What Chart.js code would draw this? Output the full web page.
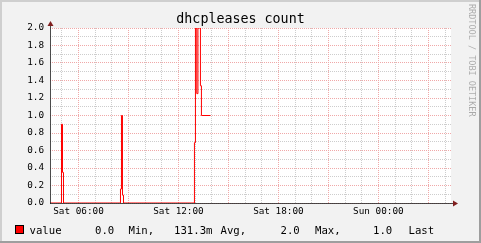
<!DOCTYPE html>
<html><head><meta charset="utf-8">
<script src="https://cdn.jsdelivr.net/npm/chart.js@4"></script>
<style>html,body{margin:0;padding:0;background:#F2F2F2;overflow:hidden}canvas{display:block}</style>
</head><body>
<canvas id="c" width="481" height="243"></canvas>
<script>
// ---- data ----
const chartTitle = 'dhcpleases count';
const seriesName = 'value';
// change points, hours since Sat 00:00 (stepped line)
const times  = [4.29, 4.98, 5.04, 5.10, 8.52, 8.58, 8.64, 8.70, 12.96, 13.02, 13.10, 13.17, 13.32, 13.38, 13.92];
const values = [0,    0.90, 0.35, 0,    0.16, 1.00, 0.09, 0,    0.69,  2.00,  1.25,  2.00,  1.34,  1.00,  1.00];
const xMin = 4.29, xMax = 28.30;
const yMin = 0, yMax = 2.0, yStep = 0.1;
const tickHours  = [6, 12, 18, 24];
const tickLabels = ['Sat 06:00', 'Sat 12:00', 'Sat 18:00', 'Sun 00:00'];
const statValues = ['0.0', '131.3m', '2.0', '1.0'];
const statNames  = ['Min,', 'Avg,', 'Max,', 'Last'];
const watermark = 'RRDTOOL / TOBI OETIKER';

// ---- styles ----
const MONO = "'DejaVu Sans Mono', 'Liberation Mono', monospace";
const minorColor = '#CDCDCD';
const majorColor = '#F0A8A8';

const rrdPlugin = {
  id: 'rrd',
  beforeDraw(chart) {
    const ctx = chart.ctx, a = chart.chartArea;
    const W = chart.width, H = chart.height;
    ctx.save();
    ctx.fillStyle = '#F2F2F2';
    ctx.fillRect(0, 0, W, H);
    ctx.fillStyle = '#CFCFCF';
    ctx.fillRect(0, 0, W, 2);
    ctx.fillRect(0, 0, 2, H);
    ctx.fillStyle = '#9E9E9E';
    ctx.fillRect(0, H - 2, W, 2);
    ctx.fillRect(W - 2, 0, 2, H);
    ctx.fillStyle = '#FFFFFF';
    ctx.fillRect(a.left, a.top, a.right - a.left + 1, a.bottom - a.top + 1);
    ctx.restore();
  },
  beforeDatasetsDraw(chart) {
    const ctx = chart.ctx, a = chart.chartArea;
    const xs = chart.scales.x, ys = chart.scales.y;
    ctx.save();
    ctx.lineWidth = 1;
    ctx.setLineDash([1, 1]);
    [false, true].forEach(major => {
      xs.ticks.forEach(t => {
        const isMajor = Math.round(t.value) % 3 === 0;
        if (isMajor !== major) return;
        const px = Math.round(xs.getPixelForValue(t.value) - 0.5) + 0.5;
        ctx.strokeStyle = isMajor ? majorColor : minorColor;
        ctx.beginPath();
        ctx.moveTo(px, a.top);
        ctx.lineTo(px, a.bottom);
        ctx.stroke();
      });
      ys.ticks.forEach(t => {
        const isMajor = Math.round(t.value * 10) % 2 === 0;
        if (isMajor !== major) return;
        const py = Math.round(ys.getPixelForValue(t.value) - 0.5) + 0.5;
        ctx.strokeStyle = isMajor ? majorColor : minorColor;
        ctx.beginPath();
        ctx.moveTo(a.left, py);
        ctx.lineTo(a.right + 2, py);
        ctx.stroke();
      });
    });
    ctx.restore();
  },
  afterDatasetsDraw(chart) {
    const ctx = chart.ctx, a = chart.chartArea;
    ctx.save();
    ctx.strokeStyle = 'rgba(31,31,31,0.8)';
    ctx.lineWidth = 1;
    ctx.beginPath();
    ctx.moveTo(a.left, a.bottom + 0.5);
    ctx.lineTo(a.right + 4, a.bottom + 0.5);
    ctx.moveTo(a.left + 0.5, a.bottom + 1);
    ctx.lineTo(a.left + 0.5, a.top - 3);
    ctx.stroke();
    ctx.fillStyle = '#801F1F';
    ctx.beginPath();
    ctx.moveTo(a.right + 3, a.bottom - 2.5);
    ctx.lineTo(a.right + 8, a.bottom + 0.5);
    ctx.lineTo(a.right + 3, a.bottom + 3.5);
    ctx.closePath();
    ctx.fill();
    ctx.beginPath();
    ctx.moveTo(a.left - 2.5, a.top - 2);
    ctx.lineTo(a.left + 0.5, a.top - 7);
    ctx.lineTo(a.left + 3.5, a.top - 2);
    ctx.closePath();
    ctx.fill();
    ctx.restore();
  },
  afterDraw(chart) {
    const ctx = chart.ctx;
    ctx.save();
    ctx.fillStyle = '#000';
    ctx.font = '13.33px ' + MONO;
    ctx.textAlign = 'center';
    ctx.textBaseline = 'alphabetic';
    ctx.fillText(chartTitle, 240.5, 23);
    ctx.fillStyle = '#FF0000';
    ctx.fillRect(15, 225, 9, 9);
    ctx.strokeStyle = '#000';
    ctx.lineWidth = 1;
    ctx.strokeRect(15.5, 225.5, 8, 8);
    ctx.fillStyle = '#000';
    ctx.font = '10.67px ' + MONO;
    ctx.textAlign = 'left';
    const by = 233.5;
    ctx.fillText(seriesName, 29.5, by);
    const valX = [95, 174, 280.5, 373];
    const nameX = [128.5, 220.5, 315, 408.5];
    statValues.forEach((v, i) => {
      ctx.fillText(v, valX[i], by);
      ctx.fillText(statNames[i], nameX[i], by);
    });
    ctx.fillStyle = 'rgba(0,0,0,0.3)';
    ctx.font = '8.5px ' + MONO;
    ctx.translate(471, 4);
    ctx.rotate(Math.PI / 2);
    ctx.textBaseline = 'middle';
    ctx.fillText(watermark, 0, 0);
    ctx.restore();
  }
};

new Chart(document.getElementById('c'), {
  type: 'line',
  data: {
    datasets: [{
      label: seriesName,
      data: times.map((t, i) => ({ x: t, y: values[i] })),
      borderColor: '#FF0000',
      borderWidth: 1,
      stepped: true,
      pointRadius: 0,
      fill: false,
      tension: 0
    }]
  },
  options: {
    responsive: false,
    animation: false,
    devicePixelRatio: 1,
    events: [],
    layout: { padding: { top: 28, right: 31, left: 0, bottom: 0 } },
    plugins: { legend: { display: false }, title: { display: false }, tooltip: { enabled: false } },
    scales: {
      x: {
        type: 'linear',
        min: xMin,
        max: xMax,
        afterFit(s) { s.height = 40; },
        ticks: {
          stepSize: 1,
          includeBounds: false,
          autoSkip: false,
          maxRotation: 0,
          minRotation: 0,
          padding: 3,
          color: '#000',
          font: { family: MONO, size: 9.33 },
          callback(v) {
            const i = tickHours.indexOf(Math.round(v));
            return i >= 0 ? tickLabels[i] : '';
          }
        },
        grid: { display: false, drawTicks: false },
        border: { display: false }
      },
      y: {
        type: 'linear',
        min: yMin,
        max: yMax,
        afterFit(s) { s.width = 50; },
        ticks: {
          stepSize: yStep,
          autoSkip: false,
          padding: 6,
          color: '#000',
          font: { family: MONO, size: 9.33 },
          callback(v) {
            const k = Math.round(v * 10);
            return k % 2 === 0 ? (k / 10).toFixed(1) : '';
          }
        },
        grid: { display: false, drawTicks: false },
        border: { display: false }
      }
    }
  },
  plugins: [rrdPlugin]
});
</script>
</body></html>
